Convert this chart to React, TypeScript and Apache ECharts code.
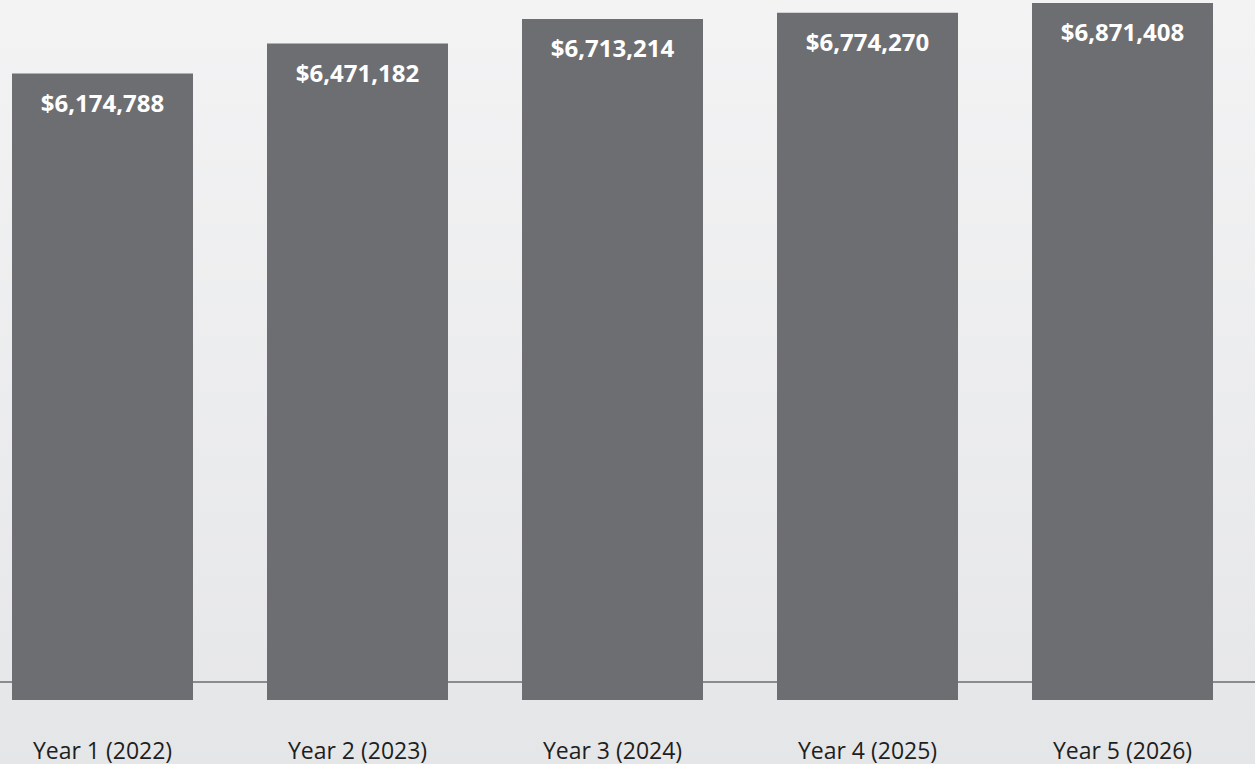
import React, { useEffect, useRef } from "react";
import * as echarts from "echarts";

const categories = ["Year 1 (2022)", "Year 2 (2023)", "Year 3 (2024)", "Year 4 (2025)", "Year 5 (2026)"];
const revenue = [6174788, 6471182, 6713214, 6774270, 6871408];

const fmt = (v: number) => "$" + v.toLocaleString("en-US");

export default function App() {
  const ref = useRef<HTMLDivElement>(null);
  useEffect(() => {
    if (!ref.current) return;
    const chart = echarts.init(ref.current, null, { renderer: "svg" });
    chart.setOption({
      animation: false,
      backgroundColor: new echarts.graphic.LinearGradient(0, 0, 0, 1, [
        { offset: 0, color: "#f3f3f4" },
        { offset: 1, color: "#e5e6e8" },
      ]),
      grid: { left: 0, right: 5, top: 0, bottom: 64, containLabel: false },
      xAxis: {
        type: "category",
        data: categories,
        axisLine: { show: false },
        axisTick: { show: false },
        axisLabel: {
          margin: 38,
          fontSize: 23,
          color: "#1e1e1e",
          fontFamily: "Open Sans",
        },
      },
      yAxis: {
        type: "value",
        min: 0,
        max: 6900000,
        show: false,
        splitLine: { show: false },
      },
      graphic: [
        {
          type: "line",
          z: 0,
          shape: { x1: 25, y1: 682, x2: 1280, y2: 682 },
          style: { stroke: "#8a8b8e", lineWidth: 2 },
        },
      ],
      series: [
        {
          type: "bar",
          z: 5,
          data: revenue,
          barWidth: 181,
          itemStyle: { color: "#6d6e71" },
          label: {
            show: true,
            position: "insideTop",
            distance: 17,
            color: "#ffffff",
            fontWeight: "bold",
            fontSize: 24,
            fontFamily: "Open Sans",
            formatter: (p: any) => fmt(p.value),
          },
        },
      ],
    });
    return () => chart.dispose();
  }, []);
  return (
    <div
      ref={ref}
      style={{ position: "absolute", left: -25, top: 0, width: 1280, height: 764 }}
    />
  );
}
